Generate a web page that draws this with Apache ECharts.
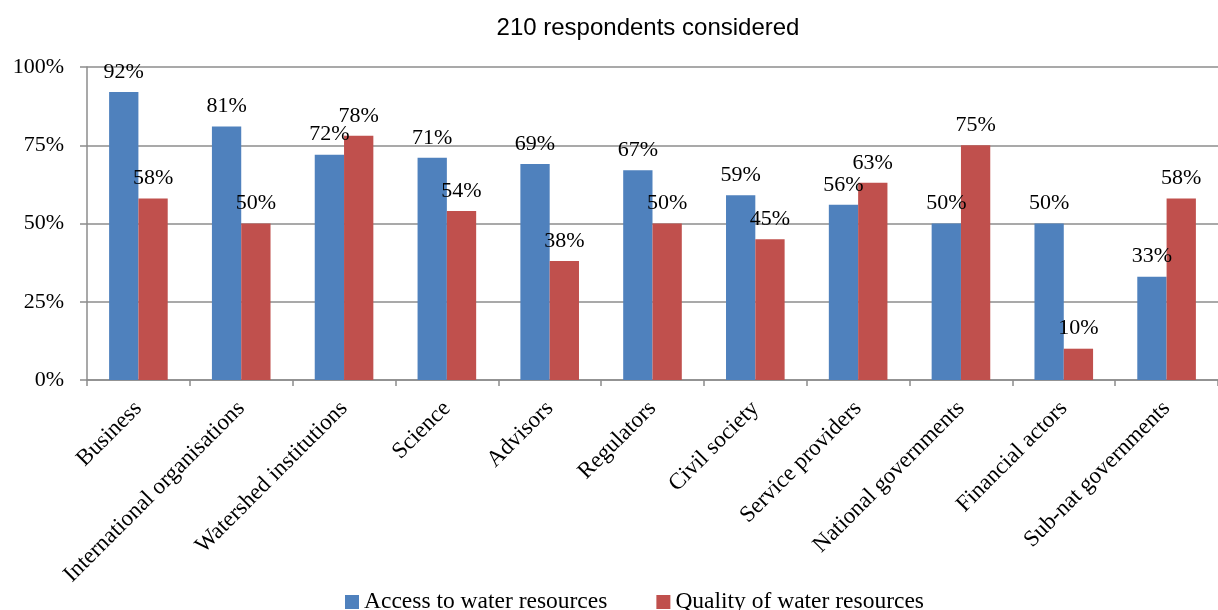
<!DOCTYPE html>
<html>
<head>
<meta charset="utf-8">
<script src="https://cdn.jsdelivr.net/npm/echarts@6/dist/echarts.min.js"></script>
<style>
  html, body { margin: 0; padding: 0; background: #fff; overflow: hidden; }
  #chart { width: 1218px; height: 610px; }
</style>
</head>
<body>
<div id="chart"></div>
<script>
// Stakeholder groups
const categories = [
  'Business', 'International organisations', 'Watershed institutions', 'Science',
  'Advisors', 'Regulators', 'Civil society', 'Service providers',
  'National governments', 'Financial actors', 'Sub-nat governments'
];
// Share of respondents (%) per group
const accessValues  = [92, 81, 72, 71, 69, 67, 59, 56, 50, 50, 33];
const qualityValues = [58, 50, 78, 54, 38, 50, 45, 63, 75, 10, 58];
const seriesNames = ['Access to water resources', 'Quality of water resources'];
const titleText = '210 respondents considered';

const serif = '"Liberation Serif", "Times New Roman", serif';
const sans = '"Liberation Sans", Arial, sans-serif';
const gray = '#8c8c8c';

const chart = echarts.init(document.getElementById('chart'), null, { renderer: 'canvas' });

function barSeries(name, data, color) {
  return {
    name: name,
    type: 'bar',
    data: data,
    barWidth: '28.5%',
    barGap: '0%',
    itemStyle: { color: color },
    label: {
      show: true,
      position: 'top',
      distance: 9,
      formatter: '{c}%',
      fontFamily: serif,
      fontSize: 22,
      color: '#000'
    }
  };
}

chart.setOption({
  animation: false,
  title: {
    text: titleText,
    left: 643,
    top: 11,
    textAlign: 'center',
    textStyle: { fontFamily: sans, fontSize: 24, fontWeight: 'normal', color: '#000' }
  },
  legend: {
    top: 590,
    left: 345,
    padding: 0,
    itemWidth: 14,
    itemHeight: 14,
    itemGap: 49,
    icon: 'rect',
    textStyle: { fontFamily: serif, fontSize: 23.5, color: '#000' },
    data: seriesNames
  },
  grid: { left: 87, top: 67, width: 1141, height: 313, containLabel: false },
  xAxis: {
    type: 'category',
    data: categories,
    axisLine: { lineStyle: { color: gray, width: 1.5 } },
    axisTick: { show: true, length: 6, lineStyle: { color: gray, width: 1.5 } },
    axisLabel: {
      rotate: 45,
      interval: 0,
      margin: 25,
      fontFamily: serif,
      fontSize: 23,
      color: '#000'
    }
  },
  yAxis: {
    type: 'value',
    min: 0,
    max: 100,
    interval: 25,
    axisLine: { show: true, lineStyle: { color: gray, width: 1.5 } },
    axisTick: { show: true, length: 7, lineStyle: { color: gray, width: 1.5 } },
    splitLine: { show: true, lineStyle: { color: gray, width: 1.5 } },
    axisLabel: {
      formatter: '{value}%',
      margin: 23,
      fontFamily: serif,
      fontSize: 22,
      color: '#000'
    }
  },
  series: [
    barSeries(seriesNames[0], accessValues, '#4f81bd'),
    barSeries(seriesNames[1], qualityValues, '#c0504d')
  ]
});
</script>
</body>
</html>
